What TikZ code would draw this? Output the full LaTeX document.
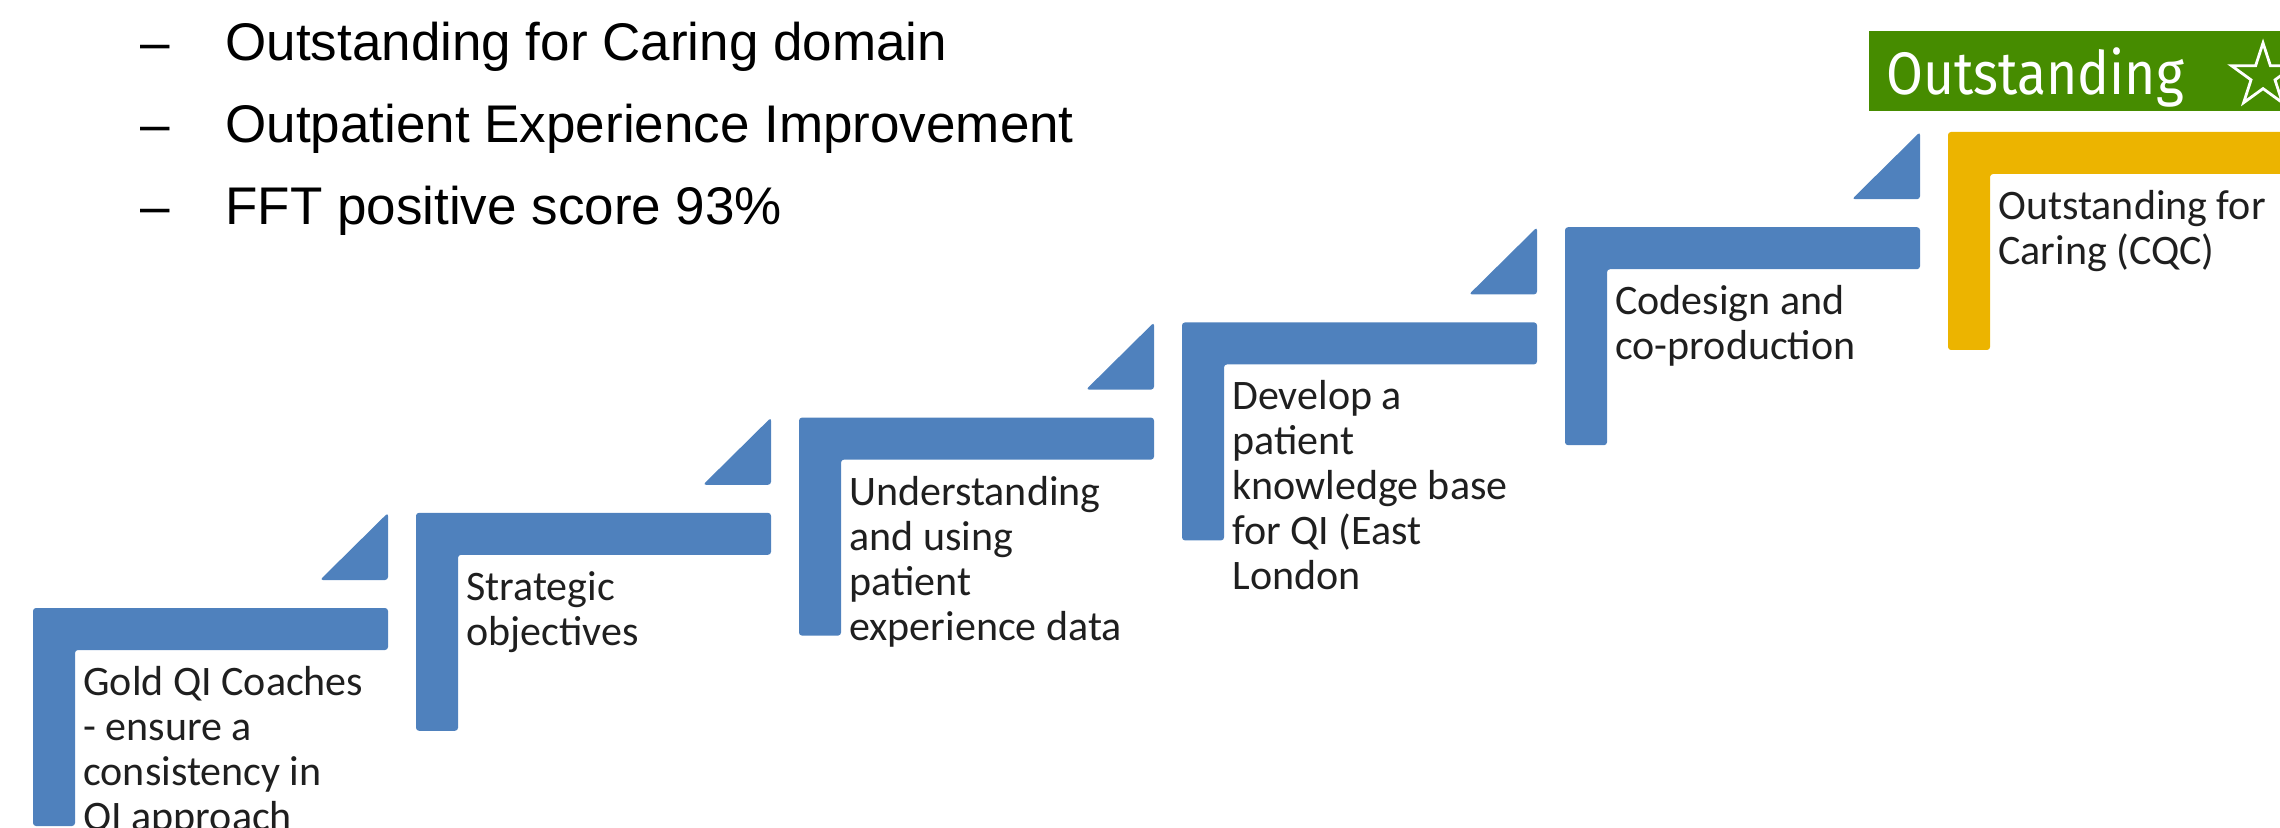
\documentclass[tikz,border=0pt]{standalone}
\usepackage{fontspec}
\setmainfont{Carlito}
\newfontfamily\listfont{Liberation Sans}
\newfontfamily\badgefont{Fira Sans}
\usetikzlibrary{shapes.geometric,calc}
\definecolor{stepblue}{RGB}{79,129,189}
\definecolor{stepgold}{RGB}{236,180,0}
\definecolor{badgegreen}{RGB}{70,140,0}
\begin{document}
\begin{tikzpicture}[x=0.5pt,y=-0.5pt,
  steptext/.style={anchor=north west, inner sep=0pt, align=left,
    font=\fontsize{21}{22.5}\selectfont, text=black!88},
  listtext/.style={anchor=base west, inner sep=0pt,
    font=\listfont\fontsize{26.5}{30}\selectfont},
  stepfill/.style={rounded corners=1.5pt}]
\useasboundingbox (0,0) rectangle (2280,828);
\clip (0,0) rectangle (2280,828);

% summary list at the top left
\foreach \n/\y/\t in {l1/61/Outstanding for Caring domain,
                      l2/143/Outpatient Experience Improvement,
                      l3/225/FFT positive score 93\%}{
  \node[listtext] (\n dash) at (140,\y) {\char"2013};
  \node[listtext] (\n) at (225,\y) {\t};
}

% the staircase: L-shaped steps
\foreach \i/\col in {0/stepblue,1/stepblue,2/stepblue,3/stepblue,4/stepblue,5/stepgold}{
  \pgfmathsetmacro\L{33+383*\i}
  \pgfmathsetmacro\T{608-95.2*\i}
  \fill[\col, stepfill] (\L,\T) -- ({\L+355},\T) -- ({\L+355},{\T+42})
     -- ({\L+42},{\T+42}) -- ({\L+42},{\T+218}) -- (\L,{\T+218}) -- cycle;
}
% small risers between the steps
\foreach \i in {0,...,4}{
  \pgfmathsetmacro\R{33+383*\i+355}
  \pgfmathsetmacro\B{608-95.2*\i-28}
  \pgfmathsetmacro\Tt{608-95.2*(\i+1)}
  \fill[stepblue, stepfill] ({\R-68},\B) -- (\R,\B) -- (\R,\Tt) -- cycle;
}

% step labels
\node[steptext] (s1) at (83,665) {\rule{0pt}{15pt}Gold QI Coaches\\- ensure a\\consistency in\\QI approach};
\node[steptext] (s2) at (466,569.8) {\rule{0pt}{15pt}Strategic\\objectives};
\node[steptext] (s3) at (849,474.6) {\rule{0pt}{15pt}Understanding\\and using\\patient\\experience data};
\node[steptext] (s4) at (1232,379.4) {\rule{0pt}{15pt}Develop a\\patient\\knowledge base\\for QI (East\\London};
\node[steptext] (s5) at (1615,284.2) {\rule{0pt}{15pt}Codesign and\\co-production};
\node[steptext] (s6) at (1998,189) {\rule{0pt}{15pt}Outstanding for\\Caring (CQC)};

% rating badge
\fill[badgegreen] (1869,31) rectangle (2300,111);
\node[anchor=base west, inner sep=0pt, text=white,
  font=\badgefont\fontsize{30}{30}\selectfont] (badge) at (1886,95)
  {\scalebox{0.89}[1]{Outstanding}};
\node[star, star points=5, star point ratio=2.618, draw=white, line width=1.4pt,
  minimum size=33pt, inner sep=0pt] (star) at (2263,76) {};
\end{tikzpicture}
\end{document}
